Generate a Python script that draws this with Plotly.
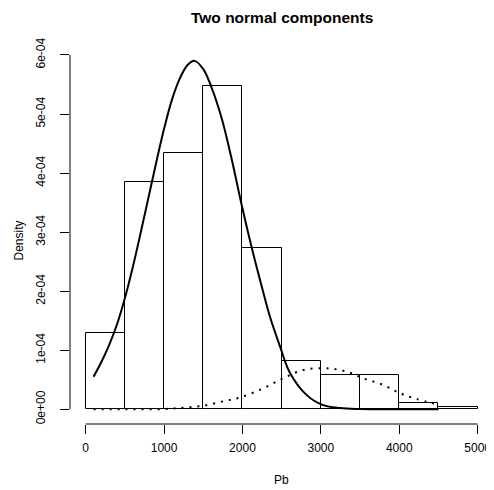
import plotly.graph_objects as go

# ---- data ----
bin_edges = [0, 500, 1000, 1500, 2000, 2500, 3000, 3500, 4000, 4500, 5000]
densities = [1.30e-4, 3.85e-4, 4.34e-4, 5.48e-4, 2.73e-4, 0.82e-4, 0.58e-4, 0.58e-4, 0.10e-4, 0.045e-4]

comp1_x = [100, 200, 300, 400, 500, 600, 700, 800, 900, 1000, 1100, 1200, 1300, 1390,
           1500, 1600, 1735, 1860, 1990, 2140, 2250, 2350, 2480, 2605, 2820, 3030, 3245,
           3500, 4000, 4500]
comp1_y = [0.55e-4, 0.80e-4, 1.09e-4, 1.44e-4, 1.88e-4, 2.40e-4, 2.98e-4, 3.58e-4, 4.18e-4,
           4.75e-4, 5.24e-4, 5.60e-4, 5.83e-4, 5.90e-4, 5.76e-4, 5.47e-4, 4.93e-4, 4.25e-4,
           3.46e-4, 2.62e-4, 2.06e-4, 1.57e-4, 1.06e-4, 0.62e-4, 0.24e-4, 0.07e-4, 0.02e-4,
           0.005e-4, 0.0, 0.0]

comp2_x = [100, 500, 1000, 1250, 1500, 1770, 1970, 2265, 2520, 2775, 3075, 3330, 3540,
           3800, 4010, 4220, 4480]
comp2_y = [0.0, 0.0, 0.005e-4, 0.027e-4, 0.06e-4, 0.14e-4, 0.20e-4, 0.355e-4, 0.525e-4,
           0.665e-4, 0.694e-4, 0.637e-4, 0.525e-4, 0.41e-4, 0.27e-4, 0.175e-4, 0.085e-4]

x_ticks = [0, 1000, 2000, 3000, 4000, 5000]
x_tick_labels = ["0", "1000", "2000", "3000", "4000", "5000"]
y_ticks = [0, 1e-4, 2e-4, 3e-4, 4e-4, 5e-4, 6e-4]
y_tick_labels = ["0e+00", "1e-04", "2e-04", "3e-04", "4e-04", "5e-04", "6e-04"]

title_text = "Two normal components"
x_title = "Pb"
y_title = "Density"

# ---- figure ----
centers = [(a + b) / 2 for a, b in zip(bin_edges[:-1], bin_edges[1:])]
widths = [b - a for a, b in zip(bin_edges[:-1], bin_edges[1:])]

FONT = "Liberation Sans, Arial, sans-serif"

fig = go.Figure()
fig.add_trace(go.Bar(x=centers, y=densities, width=widths,
                     marker=dict(color="white", line=dict(color="black", width=1)),
                     hoverinfo="skip", showlegend=False))
fig.add_trace(go.Scatter(x=comp1_x, y=comp1_y, mode="lines",
                         line=dict(color="black", width=2, shape="spline"),
                         showlegend=False))
fig.add_trace(go.Scatter(x=comp2_x, y=comp2_y, mode="lines",
                         line=dict(color="black", width=2, shape="spline", dash="2px,6px"),
                         showlegend=False))

# page body has an 8px default margin, so the figure is sized to fit the window
fig.update_layout(
    width=486, height=482,
    margin=dict(l=62, r=1, t=39, b=66),
    paper_bgcolor="white", plot_bgcolor="white",
    font=dict(family=FONT, size=12, color="black"),
    bargap=0,
    xaxis=dict(range=[-200, 5196], showgrid=False, zeroline=False, showline=False,
               tickmode="array", tickvals=x_ticks, ticktext=x_tick_labels,
               ticks="outside", ticklen=9, tickwidth=1, tickcolor="black",
               ticklabelstandoff=4, tickfont=dict(size=12, family=FONT)),
    yaxis=dict(range=[-0.249e-4, 6.135e-4], showgrid=False, zeroline=False, showline=False,
               tickmode="array", tickvals=y_ticks, ticktext=y_tick_labels,
               ticks="outside", ticklen=9, tickwidth=1, tickcolor="black",
               tickangle=-90, ticklabelstandoff=10, tickfont=dict(size=12, family=FONT)),
    shapes=[
        dict(type="line", xref="x", yref="paper", x0=x_ticks[0], x1=x_ticks[-1], y0=0, y1=0,
             line=dict(color="black", width=1)),
        dict(type="line", xref="paper", yref="y", x0=0, x1=0, y0=y_ticks[0], y1=y_ticks[-1],
             line=dict(color="black", width=1)),
    ],
    annotations=[
        dict(text="<b>" + title_text + "</b>", xref="paper", yref="paper", x=0.5, y=1,
             yshift=30, showarrow=False, font=dict(size=15.5, family=FONT),
             xanchor="center", yanchor="middle"),
        dict(text=x_title, xref="paper", yref="paper", x=0.5, y=0, yshift=-56,
             showarrow=False, font=dict(size=12, family=FONT),
             xanchor="center", yanchor="middle"),
        dict(text=y_title, xref="paper", yref="paper", x=0, y=0.5, xshift=-52, yshift=-5,
             textangle=-90, showarrow=False, font=dict(size=12, family=FONT),
             xanchor="center", yanchor="middle"),
    ],
)

fig.write_html("out.html")
